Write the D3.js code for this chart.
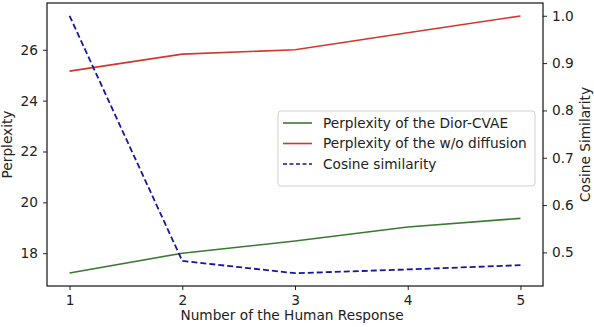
<!DOCTYPE html>
<html>
<head>
<meta charset="utf-8">
<script src="https://cdn.jsdelivr.net/npm/d3@7"></script>
<style>
  body { margin: 0; background: #fff; }
  text { font-family: "DejaVu Sans", sans-serif; fill: #222; }
</style>
</head>
<body>
<div id="chart"></div>
<script>
const responses = [1, 2, 3, 4, 5];
const diorCvae = [17.22, 18.0, 18.48, 19.03, 19.37];
const woDiffusion = [25.16, 25.83, 26.0, 26.67, 27.33];
const cosineSim = [1.0, 0.482, 0.456, 0.464, 0.473];
const leftTicks = [18, 20, 22, 24, 26];
const rightTicks = [0.5, 0.6, 0.7, 0.8, 0.9, 1.0];

const W = 594, H = 327;
const box = { left: 47, right: 543, top: 3, bottom: 286 };

const svg = d3.select("#chart").append("svg")
    .attr("width", W)
    .attr("height", H);

const x = d3.scaleLinear().domain([0.8, 5.2]).range([box.left, box.right]);
const yL = d3.scaleLinear().domain([16.71, 27.84]).range([box.bottom, box.top]);
const yR = d3.scaleLinear().domain([0.429, 1.027]).range([box.bottom, box.top]);

// lines
const lineL = d3.line().x((d, i) => x(responses[i])).y(d => yL(d));
const lineR = d3.line().x((d, i) => x(responses[i])).y(d => yR(d));

svg.append("path").datum(diorCvae)
    .attr("fill", "none").attr("stroke", "#3a7a30").attr("stroke-width", 1.6)
    .attr("d", lineL);
svg.append("path").datum(woDiffusion)
    .attr("fill", "none").attr("stroke", "#d0392d").attr("stroke-width", 1.6)
    .attr("d", lineL);
svg.append("path").datum(cosineSim)
    .attr("fill", "none").attr("stroke", "#1616a6").attr("stroke-width", 1.8)
    .attr("stroke-dasharray", "6,3")
    .attr("d", lineR);

// axes
const fs = "13.7px";
const xAxis = svg.append("g")
    .attr("transform", `translate(0,${box.bottom})`)
    .call(d3.axisBottom(x).tickValues(responses).tickFormat(d3.format("d")).tickSize(4).tickPadding(5));
const leftAxis = svg.append("g")
    .attr("transform", `translate(${box.left},0)`)
    .call(d3.axisLeft(yL).tickValues(leftTicks).tickSize(4).tickPadding(5));
const rightAxis = svg.append("g")
    .attr("transform", `translate(${box.right},0)`)
    .call(d3.axisRight(yR).tickValues(rightTicks).tickFormat(d3.format(".1f")).tickSize(4).tickPadding(5));

[xAxis, leftAxis, rightAxis].forEach(g => {
    g.select(".domain").remove();
    g.selectAll("text").style("font-family", "DejaVu Sans").style("font-size", fs).attr("fill", "#222");
    g.selectAll("line").attr("stroke", "#222");
});

// frame
svg.append("rect")
    .attr("x", box.left).attr("y", box.top)
    .attr("width", box.right - box.left).attr("height", box.bottom - box.top)
    .attr("fill", "none").attr("stroke", "#111").attr("stroke-width", 1.2);

// axis labels
svg.append("text")
    .attr("x", 292).attr("y", 320)
    .attr("text-anchor", "middle").style("font-size", fs)
    .text("Number of the Human Response");
svg.append("text")
    .attr("transform", `translate(12,${(box.top + box.bottom) / 2}) rotate(-90)`)
    .attr("text-anchor", "middle").style("font-size", fs)
    .text("Perplexity");
svg.append("text")
    .attr("transform", `translate(590,${(box.top + box.bottom) / 2}) rotate(-90)`)
    .attr("text-anchor", "middle").style("font-size", fs)
    .text("Cosine Similarity");

// legend
const legendItems = [
    { label: "Perplexity of the Dior-CVAE", color: "#3a7a30", dash: null },
    { label: "Perplexity of the w/o diffusion", color: "#d0392d", dash: null },
    { label: "Cosine similarity", color: "#1616a6", dash: "4,2.5" }
];
const lg = svg.append("g").attr("transform", "translate(278,111)");
lg.append("rect")
    .attr("width", 257).attr("height", 75).attr("rx", 3)
    .attr("fill", "#fff").attr("fill-opacity", 0.8)
    .attr("stroke", "#d0d0d0");
legendItems.forEach((d, i) => {
    const yy = 12 + i * 20.5;
    lg.append("line")
        .attr("x1", 5).attr("x2", 34).attr("y1", yy).attr("y2", yy)
        .attr("stroke", d.color).attr("stroke-width", 1.6)
        .attr("stroke-dasharray", d.dash);
    lg.append("text")
        .attr("x", 45).attr("y", yy).attr("dy", "0.35em")
        .style("font-size", fs)
        .text(d.label);
});
</script>
</body>
</html>
